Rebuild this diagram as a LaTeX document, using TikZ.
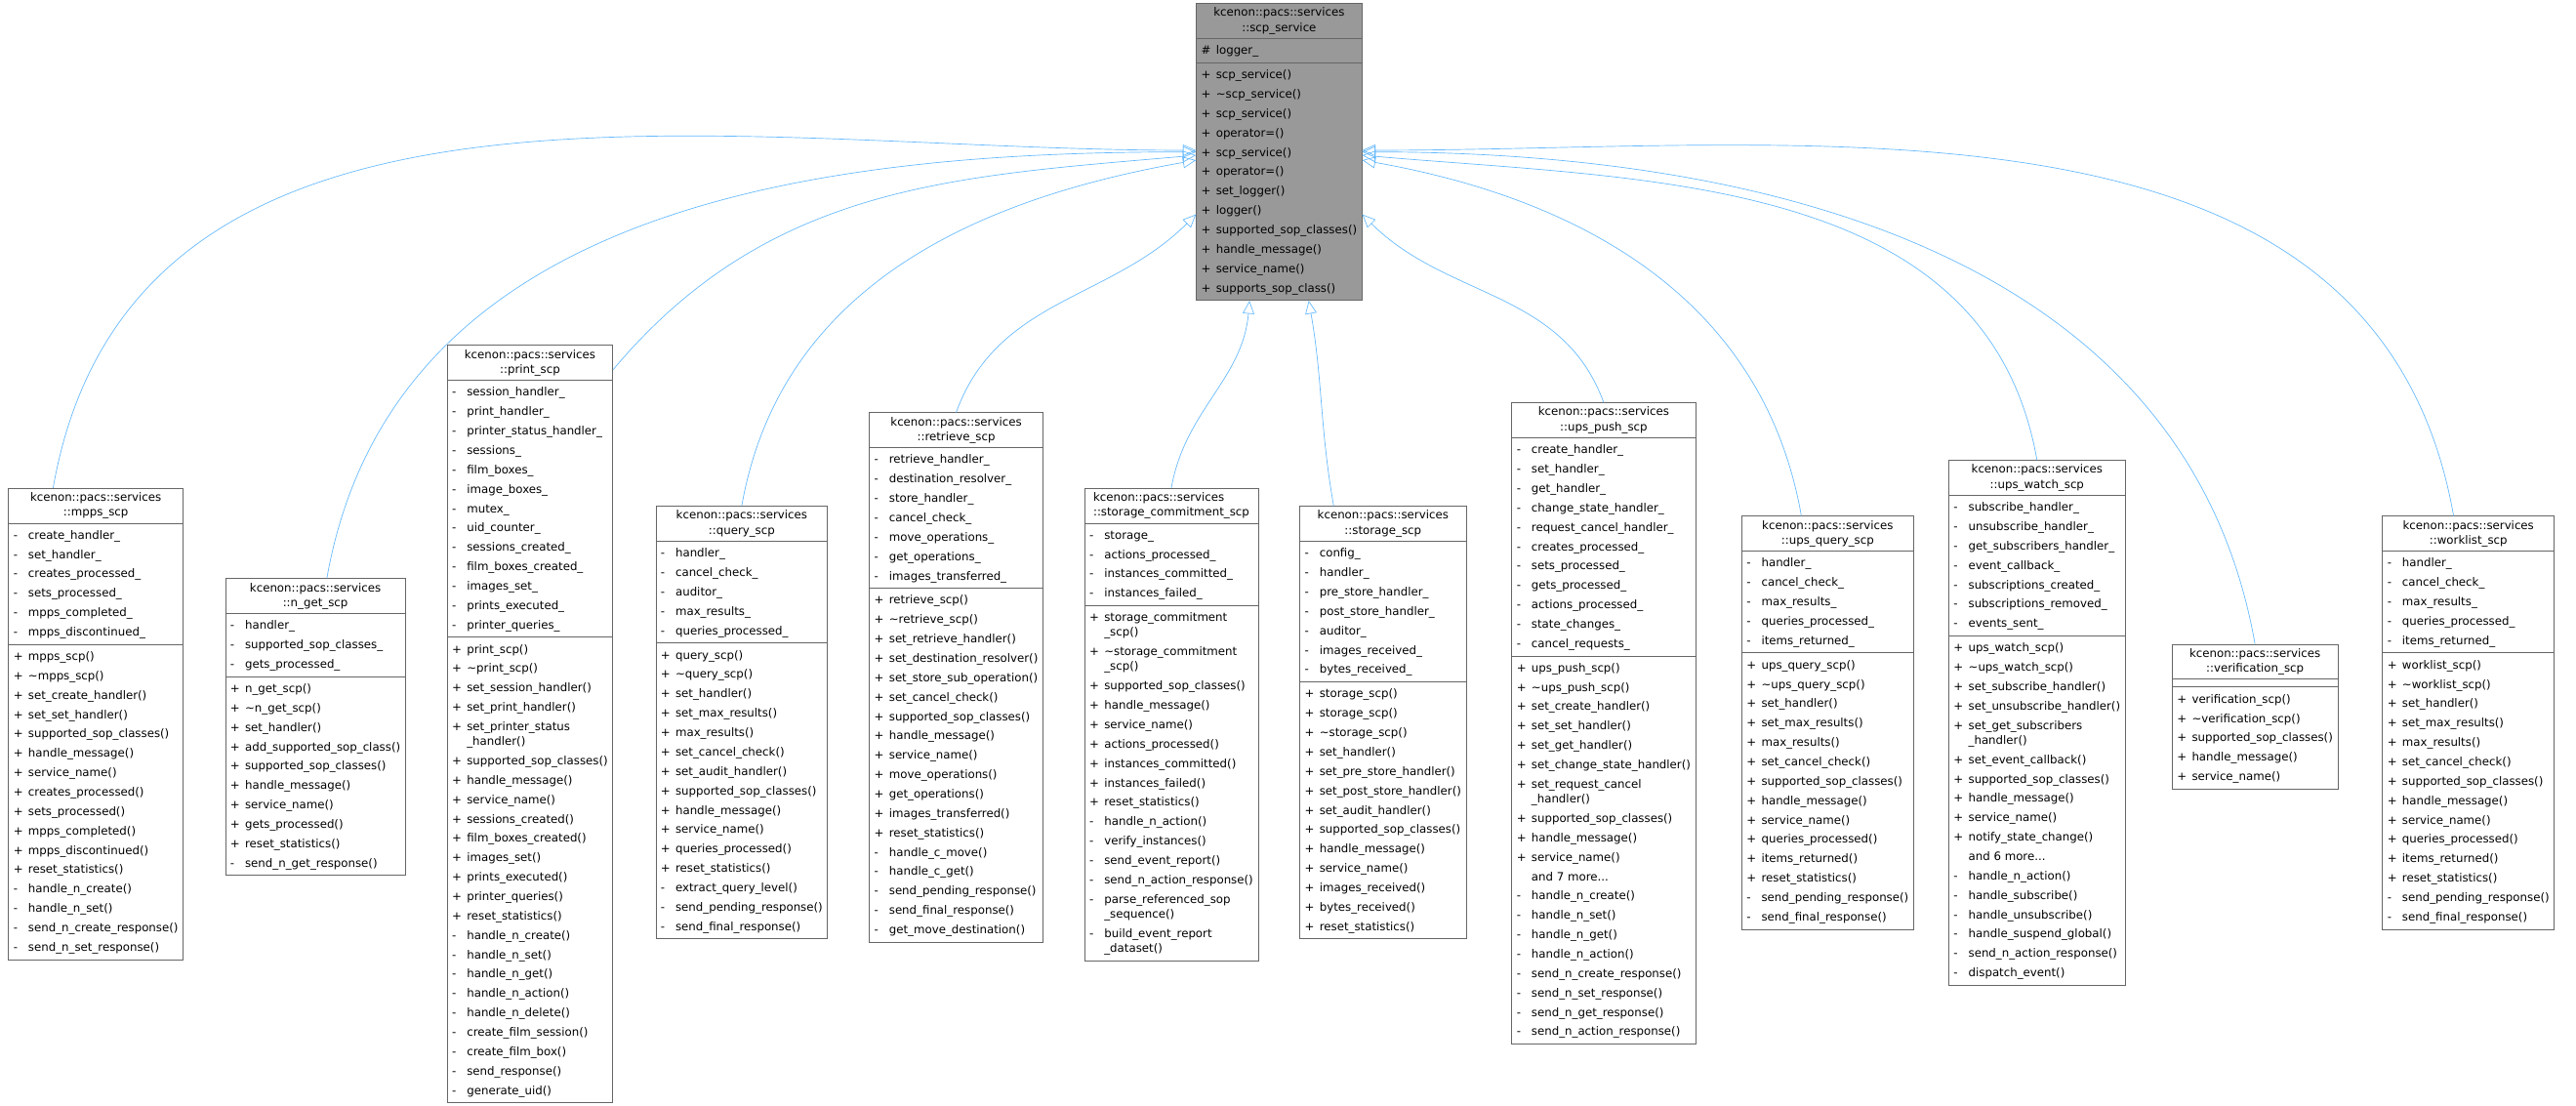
\documentclass[tikz,border=0pt]{standalone}
\usepackage{fontspec}
\setmainfont{DejaVu Sans}
\usetikzlibrary{shapes.multipart,arrows.meta}

\definecolor{edgeblue}{HTML}{63B8FF}
\definecolor{boxline}{HTML}{666666}
\definecolor{basefill}{HTML}{999999}

\newcommand{\cls}[1]{{\def\arraystretch{0.77}\begin{tabular}{@{}c@{}}#1\end{tabular}}}
\newcommand{\clsl}[1]{{\def\arraystretch{0.77}\begin{tabular}{@{}l@{}}#1\end{tabular}}}
\newcommand{\mem}[1]{\begin{tabular}{@{}l@{}}#1\end{tabular}}
\newcommand{\pu}{\makebox[9pt][l]{+}}
\newcommand{\pr}{\makebox[9pt][l]{-}}
\newcommand{\po}{\makebox[9pt][l]{\#}}
\newcommand{\cn}{\makebox[9pt][l]{}}
\newcommand{\wrapln}{\\[-2.8pt]\cn}
\newcommand{\td}{\textasciitilde}

\tikzset{
  classbox/.style={rectangle split, rectangle split parts=3, draw=boxline, fill=white,
    font=\fontsize{7}{11.8}\selectfont, inner xsep=3pt, inner ysep=1.3pt, anchor=north west,
    rectangle split part align={center,left,left}},
  basebox/.style={classbox, fill=basefill},
  inherit/.style={draw=edgeblue, -{Triangle[open,length=8pt,width=7pt]}}
}

\begin{document}
\catcode`\_=12
\begin{tikzpicture}[x=1pt,y=-1pt]

    \useasboundingbox (0,0) rectangle (1568,673);

    \node[basebox] (scp) at (728,2) {\cls{kcenon::pacs::services\\::scp_service}
      \nodepart{two}\mem{\po logger_}
      \nodepart{three}\mem{\pu scp_service()\\\pu \td scp_service()\\\pu scp_service()\\\pu operator=()\\\pu scp_service()\\\pu operator=()\\\pu set_logger()\\\pu logger()\\\pu supported_sop_classes()\\\pu handle_message()\\\pu service_name()\\\pu supports_sop_class()}};


    \node[classbox] (mpps) at (5,297) {\cls{kcenon::pacs::services\\::mpps_scp}
      \nodepart{two}\mem{\pr create_handler_\\\pr set_handler_\\\pr creates_processed_\\\pr sets_processed_\\\pr mpps_completed_\\\pr mpps_discontinued_}
      \nodepart{three}\mem{\pu mpps_scp()\\\pu \td mpps_scp()\\\pu set_create_handler()\\\pu set_set_handler()\\\pu supported_sop_classes()\\\pu handle_message()\\\pu service_name()\\\pu creates_processed()\\\pu sets_processed()\\\pu mpps_completed()\\\pu mpps_discontinued()\\\pu reset_statistics()\\\pr handle_n_create()\\\pr handle_n_set()\\\pr send_n_create_response()\\\pr send_n_set_response()}};

    \node[classbox] (nget) at (137,352) {\cls{kcenon::pacs::services\\::n_get_scp}
      \nodepart{two}\mem{\pr handler_\\\pr supported_sop_classes_\\\pr gets_processed_}
      \nodepart{three}\mem{\pu n_get_scp()\\\pu \td n_get_scp()\\\pu set_handler()\\\pu add_supported_sop_class()\\\pu supported_sop_classes()\\\pu handle_message()\\\pu service_name()\\\pu gets_processed()\\\pu reset_statistics()\\\pr send_n_get_response()}};

    \node[classbox] (print) at (272,210) {\cls{kcenon::pacs::services\\::print_scp}
      \nodepart{two}\mem{\pr session_handler_\\\pr print_handler_\\\pr printer_status_handler_\\\pr sessions_\\\pr film_boxes_\\\pr image_boxes_\\\pr mutex_\\\pr uid_counter_\\\pr sessions_created_\\\pr film_boxes_created_\\\pr images_set_\\\pr prints_executed_\\\pr printer_queries_}
      \nodepart{three}\mem{\pu print_scp()\\\pu \td print_scp()\\\pu set_session_handler()\\\pu set_print_handler()\\\pu set_printer_status\wrapln _handler()\\\pu supported_sop_classes()\\\pu handle_message()\\\pu service_name()\\\pu sessions_created()\\\pu film_boxes_created()\\\pu images_set()\\\pu prints_executed()\\\pu printer_queries()\\\pu reset_statistics()\\\pr handle_n_create()\\\pr handle_n_set()\\\pr handle_n_get()\\\pr handle_n_action()\\\pr handle_n_delete()\\\pr create_film_session()\\\pr create_film_box()\\\pr send_response()\\\pr generate_uid()}};

    \node[classbox] (query) at (399,308) {\cls{kcenon::pacs::services\\::query_scp}
      \nodepart{two}\mem{\pr handler_\\\pr cancel_check_\\\pr auditor_\\\pr max_results_\\\pr queries_processed_}
      \nodepart{three}\mem{\pu query_scp()\\\pu \td query_scp()\\\pu set_handler()\\\pu set_max_results()\\\pu max_results()\\\pu set_cancel_check()\\\pu set_audit_handler()\\\pu supported_sop_classes()\\\pu handle_message()\\\pu service_name()\\\pu queries_processed()\\\pu reset_statistics()\\\pr extract_query_level()\\\pr send_pending_response()\\\pr send_final_response()}};

    \node[classbox] (retrieve) at (529,251) {\cls{kcenon::pacs::services\\::retrieve_scp}
      \nodepart{two}\mem{\pr retrieve_handler_\\\pr destination_resolver_\\\pr store_handler_\\\pr cancel_check_\\\pr move_operations_\\\pr get_operations_\\\pr images_transferred_}
      \nodepart{three}\mem{\pu retrieve_scp()\\\pu \td retrieve_scp()\\\pu set_retrieve_handler()\\\pu set_destination_resolver()\\\pu set_store_sub_operation()\\\pu set_cancel_check()\\\pu supported_sop_classes()\\\pu handle_message()\\\pu service_name()\\\pu move_operations()\\\pu get_operations()\\\pu images_transferred()\\\pu reset_statistics()\\\pr handle_c_move()\\\pr handle_c_get()\\\pr send_pending_response()\\\pr send_final_response()\\\pr get_move_destination()}};

    \node[classbox] (commit) at (660,297) {\clsl{kcenon::pacs::services\\::storage_commitment_scp}
      \nodepart{two}\mem{\pr storage_\\\pr actions_processed_\\\pr instances_committed_\\\pr instances_failed_}
      \nodepart{three}\mem{\pu storage_commitment\wrapln _scp()\\\pu \td storage_commitment\wrapln _scp()\\\pu supported_sop_classes()\\\pu handle_message()\\\pu service_name()\\\pu actions_processed()\\\pu instances_committed()\\\pu instances_failed()\\\pu reset_statistics()\\\pr handle_n_action()\\\pr verify_instances()\\\pr send_event_report()\\\pr send_n_action_response()\\\pr parse_referenced_sop\wrapln _sequence()\\\pr build_event_report\wrapln _dataset()}};

    \node[classbox] (storage) at (791,308) {\cls{kcenon::pacs::services\\::storage_scp}
      \nodepart{two}\mem{\pr config_\\\pr handler_\\\pr pre_store_handler_\\\pr post_store_handler_\\\pr auditor_\\\pr images_received_\\\pr bytes_received_}
      \nodepart{three}\mem{\pu storage_scp()\\\pu storage_scp()\\\pu \td storage_scp()\\\pu set_handler()\\\pu set_pre_store_handler()\\\pu set_post_store_handler()\\\pu set_audit_handler()\\\pu supported_sop_classes()\\\pu handle_message()\\\pu service_name()\\\pu images_received()\\\pu bytes_received()\\\pu reset_statistics()}};

    \node[classbox] (upspush) at (920,245) {\cls{kcenon::pacs::services\\::ups_push_scp}
      \nodepart{two}\mem{\pr create_handler_\\\pr set_handler_\\\pr get_handler_\\\pr change_state_handler_\\\pr request_cancel_handler_\\\pr creates_processed_\\\pr sets_processed_\\\pr gets_processed_\\\pr actions_processed_\\\pr state_changes_\\\pr cancel_requests_}
      \nodepart{three}\mem{\pu ups_push_scp()\\\pu \td ups_push_scp()\\\pu set_create_handler()\\\pu set_set_handler()\\\pu set_get_handler()\\\pu set_change_state_handler()\\\pu set_request_cancel\wrapln _handler()\\\pu supported_sop_classes()\\\pu handle_message()\\\pu service_name()\\\cn and 7 more...\\\pr handle_n_create()\\\pr handle_n_set()\\\pr handle_n_get()\\\pr handle_n_action()\\\pr send_n_create_response()\\\pr send_n_set_response()\\\pr send_n_get_response()\\\pr send_n_action_response()}};

    \node[classbox] (upsquery) at (1060,314) {\cls{kcenon::pacs::services\\::ups_query_scp}
      \nodepart{two}\mem{\pr handler_\\\pr cancel_check_\\\pr max_results_\\\pr queries_processed_\\\pr items_returned_}
      \nodepart{three}\mem{\pu ups_query_scp()\\\pu \td ups_query_scp()\\\pu set_handler()\\\pu set_max_results()\\\pu max_results()\\\pu set_cancel_check()\\\pu supported_sop_classes()\\\pu handle_message()\\\pu service_name()\\\pu queries_processed()\\\pu items_returned()\\\pu reset_statistics()\\\pr send_pending_response()\\\pr send_final_response()}};

    \node[classbox] (upswatch) at (1186,280) {\cls{kcenon::pacs::services\\::ups_watch_scp}
      \nodepart{two}\mem{\pr subscribe_handler_\\\pr unsubscribe_handler_\\\pr get_subscribers_handler_\\\pr event_callback_\\\pr subscriptions_created_\\\pr subscriptions_removed_\\\pr events_sent_}
      \nodepart{three}\mem{\pu ups_watch_scp()\\\pu \td ups_watch_scp()\\\pu set_subscribe_handler()\\\pu set_unsubscribe_handler()\\\pu set_get_subscribers\wrapln _handler()\\\pu set_event_callback()\\\pu supported_sop_classes()\\\pu handle_message()\\\pu service_name()\\\pu notify_state_change()\\\cn and 6 more...\\\pr handle_n_action()\\\pr handle_subscribe()\\\pr handle_unsubscribe()\\\pr handle_suspend_global()\\\pr send_n_action_response()\\\pr dispatch_event()}};

    \node[classbox] (verify) at (1322,392) {\cls{kcenon::pacs::services\\::verification_scp}
      \nodepart{two}\mem{}
      \nodepart{three}\mem{\pu verification_scp()\\\pu \td verification_scp()\\\pu supported_sop_classes()\\\pu handle_message()\\\pu service_name()}};

    \node[classbox] (worklist) at (1450,314) {\cls{kcenon::pacs::services\\::worklist_scp}
      \nodepart{two}\mem{\pr handler_\\\pr cancel_check_\\\pr max_results_\\\pr queries_processed_\\\pr items_returned_}
      \nodepart{three}\mem{\pu worklist_scp()\\\pu \td worklist_scp()\\\pu set_handler()\\\pu set_max_results()\\\pu max_results()\\\pu set_cancel_check()\\\pu supported_sop_classes()\\\pu handle_message()\\\pu service_name()\\\pu queries_processed()\\\pu items_returned()\\\pu reset_statistics()\\\pr send_pending_response()\\\pr send_final_response()}};


    \draw[inherit] ([xshift=-26pt]mpps.north) to[out=80,in=180] ([yshift=1pt]scp.west);

    \draw[inherit] ([xshift=7pt]nget.north) to[out=80,in=180] ([yshift=0pt]scp.west);

    \draw[inherit] ([yshift=-15pt]print.north east) to[out=50,in=185] ([yshift=-2pt]scp.west);

    \draw[inherit] (query.north) to[out=80,in=190] ([yshift=-5pt]scp.west);

    \draw[inherit] (retrieve.north) to[out=70,in=225] ([yshift=-38pt]scp.west);

    \draw[inherit] (commit.north) to[out=80,in=-95] ([xshift=-18pt]scp.south);

    \draw[inherit] ([xshift=-30pt]storage.north) to[out=100,in=-80] ([xshift=18pt]scp.south);

    \draw[inherit] (upspush.north) to[out=110,in=-45] ([yshift=-38pt]scp.east);

    \draw[inherit] ([xshift=-16pt]upsquery.north) to[out=100,in=-10] ([yshift=-5pt]scp.east);

    \draw[inherit] (upswatch.north) to[out=100,in=-5] ([yshift=-2pt]scp.east);

    \draw[inherit] (verify.north) to[out=100,in=0] ([yshift=0pt]scp.east);

    \draw[inherit] ([xshift=-9pt]worklist.north) to[out=100,in=0] ([yshift=1pt]scp.east);

  \end{tikzpicture}
\end{document}
